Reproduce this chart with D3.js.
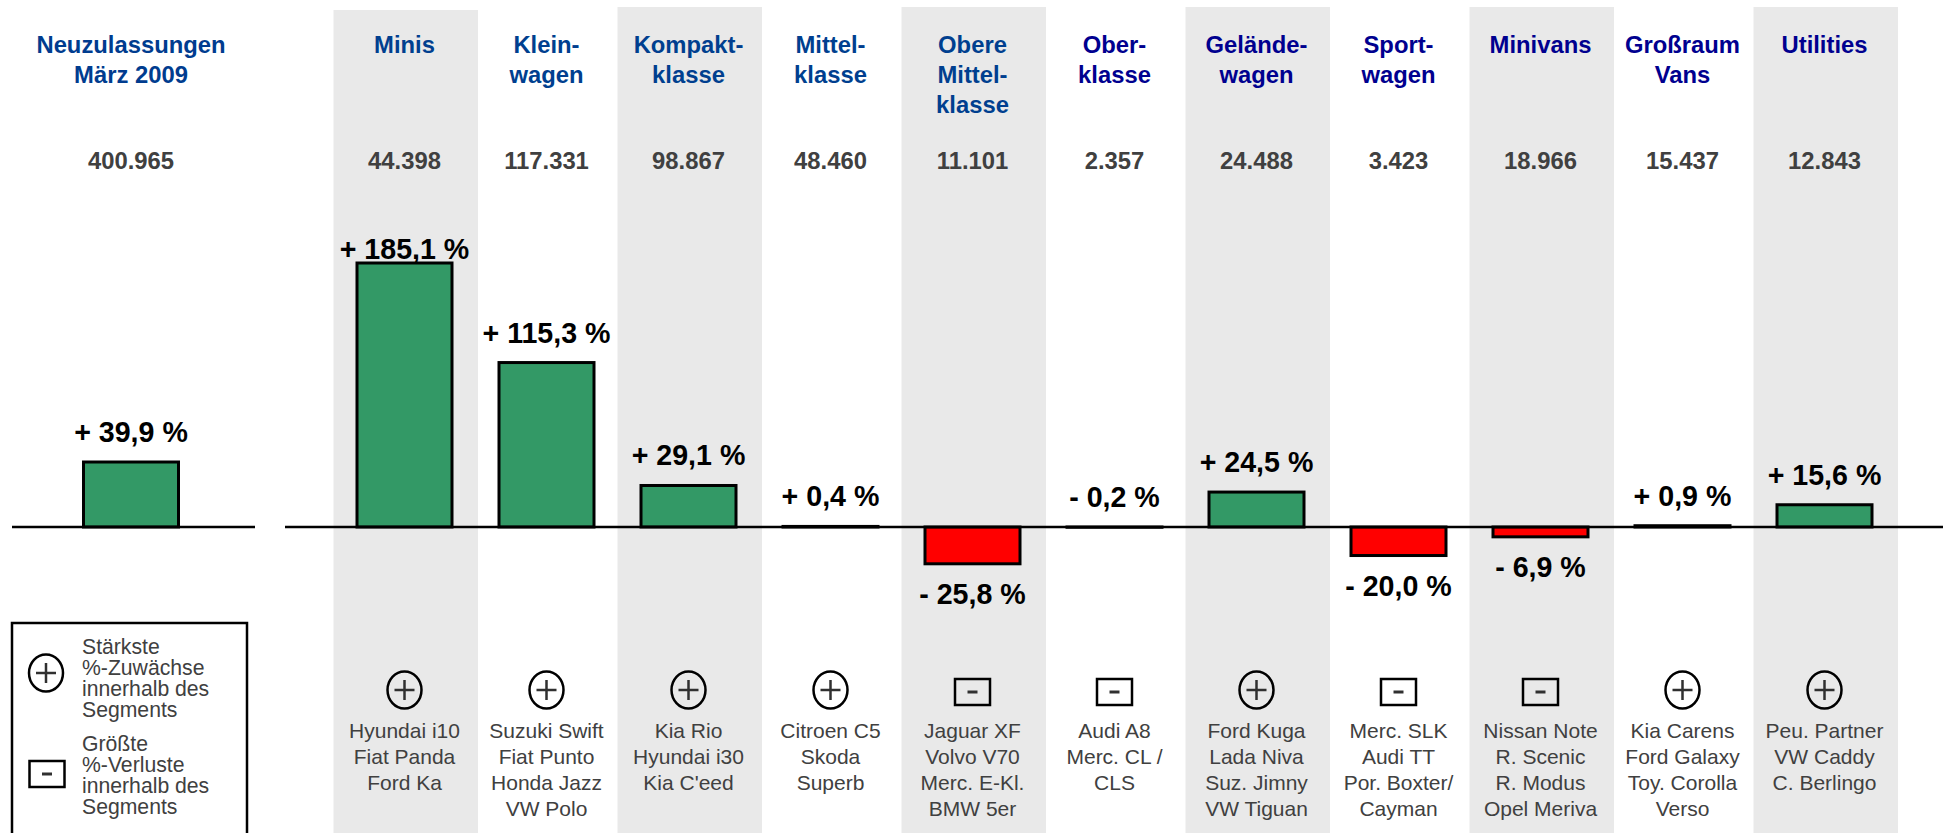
<!DOCTYPE html>
<html>
<head>
<meta charset="utf-8">
<script src="https://cdn.jsdelivr.net/npm/d3@7"></script>
<style>
  html, body { margin: 0; padding: 0; background: #fff; overflow: hidden; }
  svg { display: block; font-family: "Liberation Sans", Arial, sans-serif; }
</style>
</head>
<body>
<svg id="chart" width="1943" height="833"></svg>
<script>
var segments = ["Minis", "Kleinwagen", "Kompaktklasse", "Mittelklasse", "Obere Mittelklasse", "Oberklasse", "Geländewagen", "Sportwagen", "Minivans", "Großraum Vans", "Utilities"];
var headerLines = [["Minis"], ["Klein-", "wagen"], ["Kompakt-", "klasse"], ["Mittel-", "klasse"], ["Obere", "Mittel-", "klasse"], ["Ober-", "klasse"], ["Gelände-", "wagen"], ["Sport-", "wagen"], ["Minivans"], ["Großraum", "Vans"], ["Utilities"]];
var registrations = ["44.398", "117.331", "98.867", "48.460", "11.101", "2.357", "24.488", "3.423", "18.966", "15.437", "12.843"];
var changes = [185.1, 115.3, 29.1, 0.4, -25.8, -0.2, 24.5, -20.0, -6.9, 0.9, 15.6];
var models = [
  ["Hyundai i10", "Fiat Panda", "Ford Ka"],
  ["Suzuki Swift", "Fiat Punto", "Honda Jazz", "VW Polo"],
  ["Kia Rio", "Hyundai i30", "Kia C'eed"],
  ["Citroen C5", "Skoda", "Superb"],
  ["Jaguar XF", "Volvo V70", "Merc. E-Kl.", "BMW 5er"],
  ["Audi A8", "Merc. CL /", "CLS"],
  ["Ford Kuga", "Lada Niva", "Suz. Jimny", "VW Tiguan"],
  ["Merc. SLK", "Audi TT", "Por. Boxter/", "Cayman"],
  ["Nissan Note", "R. Scenic", "R. Modus", "Opel Meriva"],
  ["Kia Carens", "Ford Galaxy", "Toy. Corolla", "Verso"],
  ["Peu. Partner", "VW Caddy", "C. Berlingo"]
];
var markers = ["+", "+", "+", "+", "-", "-", "+", "-", "-", "+", "+"];
var totalHeader = ["Neuzulassungen", "März 2009"];
var totalRegistrations = "400.965";
var totalChange = [39.9];
var legendPlus = ["Stärkste", "%-Zuwächse", "innerhalb des", "Segments"];
var legendMinus = ["Größte", "%-Verluste", "innerhalb des", "Segments"];

var svg = d3.select("#chart");
var base = 527;

var x = d3.scaleBand().domain(segments).range([333.5, 1895.5]);
var y = d3.scaleLinear().domain([0, 185.1]).range([base, 263]);
// the total bar is drawn on its own, slightly larger scale
var yTotal = d3.scaleLinear().domain([0, 39.9]).range([base, 462]);
var barWidth = 95;
var totalX = 131;

function pct(v) {
  return (v < 0 ? "- " : "+ ") + Math.abs(v).toFixed(1).replace(".", ",") + " %";
}

function lines(g, arr, cx, y0, lh) {
  g.selectAll(null).data(arr).enter().append("text")
    .attr("x", cx)
    .attr("y", function(d, i) { return y0 + i * lh; })
    .attr("text-anchor", "middle")
    .text(function(d) { return d; });
}

function marker(g, kind, cx, cy) {
  var m = g.append("g").attr("transform", "translate(" + cx + "," + cy + ")");
  if (kind === "+") {
    m.append("ellipse").attr("rx", 17).attr("ry", 18.5).attr("fill", "none").attr("stroke", "#000").attr("stroke-width", 2.5);
    m.append("path").attr("d", "M-10,0H10M0,-10V10").attr("stroke", "#303030").attr("stroke-width", 2.5);
  } else {
    m.append("rect").attr("x", -17.5).attr("y", -13).attr("width", 35).attr("height", 26).attr("fill", "none").attr("stroke", "#000").attr("stroke-width", 2.5);
    m.append("path").attr("d", "M-5,0H5").attr("stroke", "#303030").attr("stroke-width", 3);
  }
}

// grey bands, every other segment
svg.append("g").selectAll("rect")
  .data(segments.filter(function(d, i) { return i % 2 === 0; }))
  .enter().append("rect")
  .attr("x", function(d) { return x(d); })
  .attr("y", function(d) { return d === "Minis" ? 10 : 7; })
  .attr("width", x.bandwidth() + 2.5)
  .attr("height", 833)
  .attr("fill", "#e9e9e9");

// headers, the colour changes from Oberklasse on
var head = svg.append("g").attr("font-size", 23.8).attr("font-weight", "bold");
lines(head.append("g").attr("fill", "#003c8f"), totalHeader, totalX, 53, 30);
segments.forEach(function(s, i) {
  var col = i >= 5 ? "#00008f" : "#003f8f";
  lines(head.append("g").attr("fill", col), headerLines[i], x(s) + x.bandwidth() / 2, 53, 30);
});

// registrations
var regs = svg.append("g").attr("font-size", 23.8).attr("font-weight", "bold").attr("fill", "#404040").attr("text-anchor", "middle");
regs.append("text").attr("x", totalX).attr("y", 169).text(totalRegistrations);
regs.selectAll(null).data(registrations).enter().append("text")
  .attr("x", function(d, i) { return x(segments[i]) + x.bandwidth() / 2; })
  .attr("y", 169)
  .text(function(d) { return d; });

// bars
var bars = svg.append("g").attr("stroke", "#000").attr("stroke-width", 3);
bars.selectAll(null).data(totalChange).enter().append("rect")
  .attr("x", totalX - barWidth / 2)
  .attr("y", function(d) { return yTotal(d); })
  .attr("width", barWidth)
  .attr("height", function(d) { return base - yTotal(d); })
  .attr("fill", "#339966");
bars.selectAll(null).data(changes).enter().append("rect")
  .attr("x", function(d, i) { return x(segments[i]) + x.bandwidth() / 2 - barWidth / 2; })
  .attr("y", function(d) { return Math.min(y(d), base); })
  .attr("width", barWidth)
  .attr("height", function(d) { return Math.abs(y(d) - base); })
  .attr("fill", function(d) { return d < 0 ? "#ff0000" : "#339966"; });

// baselines
var axis = svg.append("g").attr("stroke", "#000").attr("stroke-width", 2.5);
axis.append("line").attr("x1", 12).attr("x2", 255).attr("y1", base).attr("y2", base);
axis.append("line").attr("x1", 285).attr("x2", 1943).attr("y1", base).attr("y2", base);

// percent labels
var labels = svg.append("g").attr("font-size", 28.6).attr("font-weight", "bold").attr("fill", "#000").attr("text-anchor", "middle");
labels.append("text").attr("x", totalX).attr("y", yTotal(totalChange[0]) - 20).text(pct(totalChange[0]));
labels.selectAll(null).data(changes).enter().append("text")
  .attr("x", function(d, i) { return x(segments[i]) + x.bandwidth() / 2; })
  .attr("y", function(d) {
    if (d === d3.max(changes)) return y(d) - 4;
    if (d < -1) return y(d) + 40;
    return Math.min(y(d), base) - 20;
  })
  .text(pct);

// markers and model names
segments.forEach(function(s, i) {
  var cx = x(s) + x.bandwidth() / 2;
  marker(svg, markers[i], cx, markers[i] === "+" ? 690 : 692);
  lines(svg.append("g").attr("font-size", 21).attr("fill", "#404040"), models[i], cx, 738, 26);
});

// legend
svg.append("rect").attr("x", 12).attr("y", 623).attr("width", 235).attr("height", 260).attr("fill", "none").attr("stroke", "#000").attr("stroke-width", 2.5);
marker(svg, "+", 46, 673);
marker(svg, "-", 47, 774);
var leg = svg.append("g").attr("font-size", 21.2).attr("fill", "#404040");
[legendPlus, legendMinus].forEach(function(arr, k) {
  leg.selectAll(null).data(arr).enter().append("text")
    .attr("x", 82)
    .attr("y", function(d, i) { return (k === 0 ? 654 : 751) + i * 21; })
    .text(function(d) { return d; });
});
</script>
</body>
</html>
